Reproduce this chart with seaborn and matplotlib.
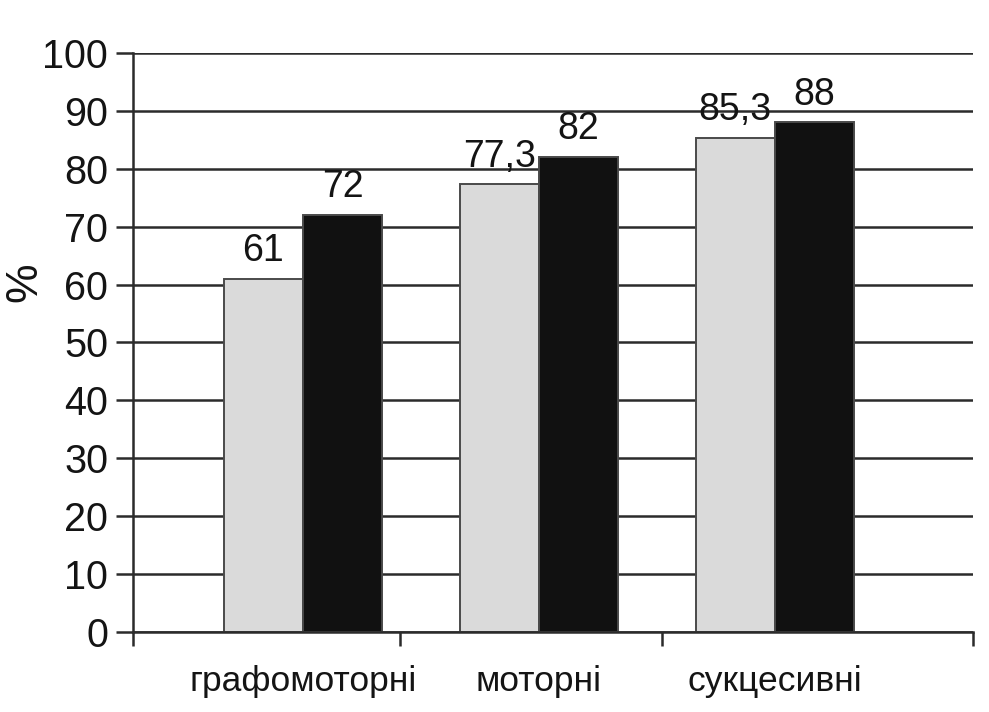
import numpy as np
import pandas as pd
import matplotlib
matplotlib.use("Agg")
import matplotlib.pyplot as plt
import seaborn as sns

# %% ──────────────────── Дані ────────────────────
categories = ['графомоторні', 'моторні', 'сукцесивні']
series_names = ['група 1', 'група 2']
values_light = [61, 77.3, 85.3]
values_dark = [72, 82, 88]
y_ticks = [0, 10, 20, 30, 40, 50, 60, 70, 80, 90, 100]

df = pd.DataFrame({
    'cat': categories * 2,
    'series': [series_names[0]] * 3 + [series_names[1]] * 3,
    'value': values_light + values_dark,
})

# %% ──────────────────── Стиль ────────────────────
sns.set_style('white')
plt.rcParams['font.family'] = ['Liberation Sans', 'DejaVu Sans']
text_color = '#141414'
line_color = '#2b2b2b'

fig = plt.figure(figsize=(9.89, 7.12), dpi=100)
ax = fig.add_axes([0.1345, 0.1124, 0.8495, 0.8132])

sns.barplot(data=df, x='cat', y='value', hue='series', order=categories,
            hue_order=series_names, palette=['#dadada', '#111111'],
            width=0.67, gap=0, saturation=1, legend=False, ax=ax,
            edgecolor='#4a4a4a', linewidth=1.4)

# підписи значень
for cont in ax.containers:
    labels = [f"{v:g}".replace('.', ',') for v in cont.datavalues]
    ax.bar_label(cont, labels=labels, padding=7, fontsize=27, color=text_color)

# %% ──────────────────── Осі ────────────────────
ax.set_ylim(0, 100)
ax.set_xlim(-0.72, 2.84)
ax.set_yticks(y_ticks)
ax.set_yticklabels([str(t) for t in y_ticks], fontsize=28.5, color=text_color)
ax.yaxis.grid(True, color=line_color, linewidth=1.8)
ax.set_axisbelow(True)
ax.tick_params(axis='y', left=True, length=12, width=1.8, color=line_color,
               pad=6, direction='out')

ax.set_xticks(range(len(categories)))
ax.set_xticklabels(categories, fontsize=25.5, color=text_color)
ax.tick_params(axis='x', which='major', bottom=True, length=0, pad=24)
ax.set_xticks([-0.72, 0.41, 1.52, 2.84], minor=True)
ax.tick_params(axis='x', which='minor', bottom=True, length=10, width=1.8,
               color=line_color, direction='out')

ax.set_xlabel('')
ax.set_ylabel('')
fig.text(25 / 989, 1 - 282 / 712, '%', rotation=90, ha='center', va='center',
         fontsize=32, color=text_color)

for side in ['top', 'right']:
    ax.spines[side].set_visible(False)
for side in ['left', 'bottom']:
    ax.spines[side].set_color(line_color)
    ax.spines[side].set_linewidth(1.8)

fig.savefig('out.png', dpi=100, facecolor='white')
